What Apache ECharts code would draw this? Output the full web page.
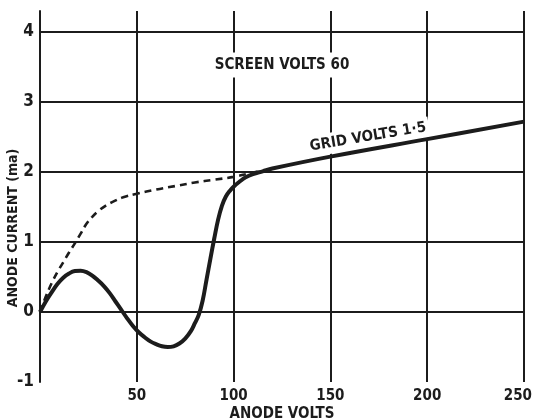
<!DOCTYPE html>
<html>
<head>
<meta charset="utf-8">
<script src="https://cdn.jsdelivr.net/npm/echarts@6/dist/echarts.min.js"></script>
<style>
  html, body { margin: 0; padding: 0; background: #ffffff; }
  #chart { width: 534px; height: 420px; }
</style>
</head>
<body>
<div id="chart"></div>
<script>
// Anode current against anode voltage, screen at 60 V, grid at 1.5 V.
// Solid curve: measured characteristic (with its negative-resistance dip).
const solidVolts = [0, 3, 6, 9, 12, 15, 18, 21, 24, 27, 30, 33, 36, 39, 42, 45, 48, 51, 54, 57, 60, 63, 66, 69, 72, 75, 78, 80, 82, 84, 86, 88, 90, 92, 94, 96, 98, 100, 103, 106, 110, 115, 120, 150, 200, 250];
const solidCurrent = [0, 0.15, 0.28, 0.40, 0.49, 0.55, 0.585, 0.59, 0.57, 0.52, 0.45, 0.37, 0.27, 0.15, 0.03, -0.09, -0.20, -0.29, -0.36, -0.42, -0.46, -0.49, -0.50, -0.49, -0.45, -0.38, -0.27, -0.16, -0.04, 0.16, 0.46, 0.76, 1.05, 1.32, 1.52, 1.65, 1.73, 1.79, 1.86, 1.92, 1.97, 2.01, 2.05, 2.22, 2.47, 2.72];

// Dashed curve: characteristic without the dip, joining the solid one near 113 V.
const dashedVolts = [0, 3, 6, 9, 12, 15, 18, 21, 24, 27, 30, 34, 38, 43, 50, 60, 70, 80, 90, 100, 108, 113];
const dashedCurrent = [0, 0.22, 0.41, 0.57, 0.71, 0.85, 0.98, 1.12, 1.26, 1.36, 1.44, 1.52, 1.58, 1.64, 1.69, 1.75, 1.80, 1.85, 1.89, 1.93, 1.98, 2.01];

// Axis ranges and tick spacing
const voltRange = [0, 250];
const voltStep = 50;
const currentRange = [-1, 4.3];
const currentStep = 1;

// Texts
const xTitle = 'ANODE VOLTS';
const yTitle = 'ANODE CURRENT (ma)';
const screenNote = 'SCREEN VOLTS 60';
const gridNote = 'GRID VOLTS 1·5';

const ink = '#1c1c1c';
const font = '"DejaVu Sans Condensed", "DejaVu Sans", sans-serif';

const pairs = (xs, ys) => xs.map((x, i) => [x, ys[i]]);

const chart = echarts.init(document.getElementById('chart'), null, { renderer: 'canvas' });

chart.setOption({
  backgroundColor: '#ffffff',
  animation: false,
  grid: { left: 40, right: 10, top: 11, bottom: 38, containLabel: false, outerBoundsMode: 'none' },
  xAxis: {
    type: 'value',
    min: voltRange[0],
    max: voltRange[1],
    interval: voltStep,
    name: xTitle,
    nameLocation: 'middle',
    nameGap: 25,
    nameMoveOverlap: false,
    nameTextStyle: { color: ink, fontFamily: font, fontWeight: 'bold', fontSize: 15 },
    axisLine: { show: true, lineStyle: { color: ink, width: 2 } },
    axisTick: { show: false },
    axisLabel: {
      showMinLabel: false,
      alignMaxLabel: 'right',
      margin: 7,
      color: ink, fontFamily: font, fontWeight: 'bold', fontSize: 15,
      // the last label sits flush with the page edge
      formatter: v => (v === voltRange[1] ? '{edge|' + v + '}' : String(v)),
      rich: {
        edge: { color: ink, fontFamily: font, fontWeight: 'bold', fontSize: 15, padding: [0, -8, 0, 0] }
      }
    },
    splitLine: { show: true, showMinLine: false, lineStyle: { color: ink, width: 2 } }
  },
  yAxis: {
    type: 'value',
    min: currentRange[0],
    max: currentRange[1],
    interval: currentStep,
    axisLine: { show: true, onZero: false, lineStyle: { color: ink, width: 2 } },
    axisTick: { show: false },
    axisLabel: {
      showMaxLabel: false,
      margin: 6,
      color: ink, fontFamily: font, fontWeight: 'bold', fontSize: 17,
      formatter: v => (Number.isInteger(v) ? String(v) : '')
    },
    splitLine: { show: true, showMinLine: false, showMaxLine: false, lineStyle: { color: ink, width: 2 } }
  },
  series: [
    {
      type: 'line',
      data: pairs(dashedVolts, dashedCurrent),
      smooth: 0.4,
      symbol: 'none',
      lineStyle: { color: ink, width: 2.6, type: [7, 5] },
      z: 3
    },
    {
      type: 'line',
      data: pairs(solidVolts, solidCurrent),
      smooth: 0.4,
      symbol: 'none',
      lineStyle: { color: ink, width: 4 },
      z: 4
    }
  ],
  graphic: [
    {
      type: 'text',
      x: 13, y: 228,
      rotation: Math.PI / 2,
      style: {
        text: yTitle,
        fill: ink,
        font: 'bold 14px ' + font,
        textAlign: 'center',
        textVerticalAlign: 'middle'
      },
      z: 1
    },
    {
      type: 'text',
      x: 282, y: 65,
      style: {
        text: screenNote,
        fill: ink,
        font: 'bold 15px ' + font,
        textAlign: 'center',
        textVerticalAlign: 'middle',
        backgroundColor: '#ffffff',
        padding: [5, 4]
      },
      z: 1
    },
    {
      type: 'text',
      x: 368, y: 137,
      rotation: 0.165,
      style: {
        text: gridNote,
        fill: ink,
        font: 'bold 15px ' + font,
        textAlign: 'center',
        textVerticalAlign: 'middle',
        backgroundColor: '#ffffff',
        padding: [3, 3]
      },
      z: 1
    }
  ]
});
</script>
</body>
</html>
